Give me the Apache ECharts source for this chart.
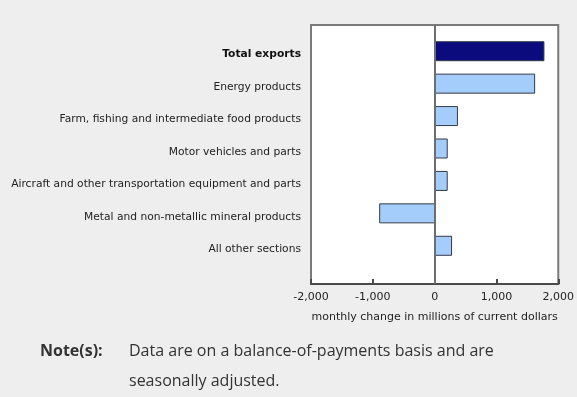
<!DOCTYPE html>
<html>
<head>
<meta charset="utf-8">
<script src="https://cdn.jsdelivr.net/npm/echarts@6/dist/echarts.min.js"></script>
<style>
  html, body { margin: 0; padding: 0; background: #eeeeee; }
  #chart { width: 577px; height: 397px; }
</style>
</head>
<body>
<div id="chart"></div>
<script>
// monthly change, millions of current dollars
var categories = [
  'Total exports',
  'Energy products',
  'Farm, fishing and intermediate food products',
  'Motor vehicles and parts',
  'Aircraft and other transportation equipment and parts',
  'Metal and non-metallic mineral products',
  'All other sections'
]
var values = [1765, 1615, 370, 205, 205, -900, 275]
var xTicks = [-2000, -1000, 0, 1000, 2000]
var axisTitle = 'monthly change in millions of current dollars'
var noteLabel = 'Note(s):'
var noteLines = ['Data are on a balance-of-payments basis and are', 'seasonally adjusted.']

var chartDom = document.getElementById('chart')
var myChart = echarts.init(chartDom)

var fmt = function (v) {
  return v.toLocaleString('en-US')
}

var option = {
  backgroundColor: '#eeeeee',
  animation: false,
  grid: [
    // frame + x axis
    { left: 311, right: 18, top: 25, bottom: 113, show: true, backgroundColor: '#ffffff', borderColor: '#7a7a7a', borderWidth: 2 },
    // bars
    { left: 311, right: 18, top: 35, bottom: 135 }
  ],
  xAxis: [
    {
      gridIndex: 0,
      type: 'value',
      min: xTicks[0],
      max: xTicks[xTicks.length - 1],
      interval: 1000,
      axisLine: { show: true, lineStyle: { color: '#4a4a4a', width: 2 } },
      axisTick: { show: true, inside: true, length: 5, lineStyle: { color: '#4a4a4a', width: 2 } },
      splitLine: { show: false },
      axisLabel: { color: '#222222', fontFamily: 'DejaVu Sans', fontSize: 11, margin: 8, formatter: fmt },
      name: axisTitle,
      nameLocation: 'middle',
      nameGap: 28,
      nameTextStyle: { color: '#222222', fontFamily: 'DejaVu Sans', fontSize: 11 }
    },
    {
      gridIndex: 1,
      type: 'value',
      min: xTicks[0],
      max: xTicks[xTicks.length - 1],
      interval: 1000,
      show: false,
      splitLine: { show: false }
    }
  ],
  yAxis: [
    {
      gridIndex: 0,
      type: 'value',
      min: 0,
      max: 1,
      show: false,
      splitLine: { show: false }
    },
    {
      gridIndex: 1,
      type: 'category',
      inverse: true,
      data: categories,
      axisLine: { show: false },
      axisTick: { show: false },
      axisLabel: {
        margin: 10,
        color: '#222222',
        fontFamily: 'DejaVu Sans',
        fontSize: 10.7,
        padding: [7, 0, 0, 0],
        formatter: function (v, i) {
          return i === 0 ? '{b|' + v + '}' : v
        },
        rich: {
          b: { fontWeight: 'bold', color: '#111111', fontFamily: 'DejaVu Sans', fontSize: 10.7 }
        }
      }
    }
  ],
  series: [
    {
      // zero line across the whole frame
      type: 'line',
      xAxisIndex: 0,
      yAxisIndex: 0,
      data: [],
      silent: true,
      markLine: {
        symbol: 'none',
        silent: true,
        label: { show: false },
        lineStyle: { color: '#6e6e6e', width: 2, type: 'solid' },
        data: [{ xAxis: 0 }]
      }
    },
    {
      type: 'bar',
      xAxisIndex: 1,
      yAxisIndex: 1,
      barWidth: 20,
      data: values.map(function (v, i) {
        return {
          value: v,
          itemStyle: {
            color: i === 0 ? '#0b0b7e' : '#a4cdfb',
            borderColor: '#333a48',
            borderWidth: 1
          }
        }
      }),
      z: 3
    }
  ],
  graphic: [
    {
      type: 'text',
      left: 40,
      top: 343,
      style: { text: noteLabel, fill: '#333333', font: 'bold 16px "Open Sans"' }
    },
    {
      type: 'text',
      left: 129,
      top: 343,
      style: { text: noteLines[0], fill: '#333333', font: '16px "Open Sans"' }
    },
    {
      type: 'text',
      left: 129,
      top: 373,
      style: { text: noteLines[1], fill: '#333333', font: '16px "Open Sans"' }
    }
  ]
}

option && myChart.setOption(option)
</script>
</body>
</html>
